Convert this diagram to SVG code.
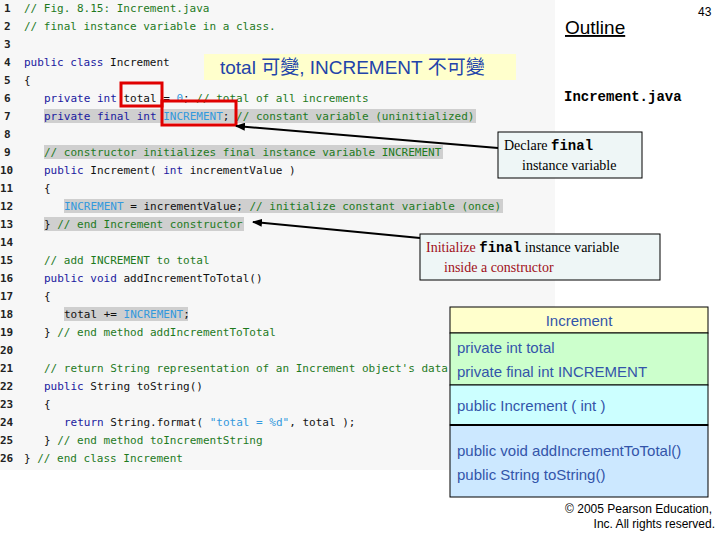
<svg xmlns="http://www.w3.org/2000/svg" width="720" height="540" viewBox="0 0 720 540">
<defs>
<marker id="ah" markerWidth="10" markerHeight="8" refX="9" refY="4" orient="auto" markerUnits="userSpaceOnUse"><path d="M0,0 L10,4 L0,8 z" fill="#000"/></marker>
</defs>
<style>
.code{font-family:"DejaVu Sans Mono","Liberation Mono",monospace;font-size:11px;fill:#111}
.ln{font-family:"DejaVu Sans Mono",monospace;font-size:11px;fill:#222;font-weight:bold}
.k{fill:#1a1aa0}.c{fill:#1e7a1e}.b{fill:#3399dd}
.hl{fill:#cfcfcf}
.call{font-family:"Liberation Serif",serif;font-size:14px}
.uml{font-family:"Liberation Sans",Arial,sans-serif;font-size:15px;fill:#3355aa}
</style>
<rect width="720" height="540" fill="#fff"/>
<rect x="0" y="0" width="555" height="470" fill="#f7f7f7"/>
<g id="highlights">
<rect class="hl" x="44" y="109" width="432" height="14"/>
<rect class="hl" x="44" y="145" width="399" height="14"/>
<rect class="hl" x="64" y="199" width="439" height="14"/>
<rect class="hl" x="44" y="217" width="200" height="14"/>
<rect class="hl" x="64" y="307" width="124" height="14"/>
</g>
<g id="code">
<g class="ln">
<text x="4" y="12">1</text><text x="4" y="30">2</text><text x="4" y="48">3</text><text x="4" y="66">4</text><text x="4" y="84">5</text><text x="4" y="102">6</text><text x="4" y="120">7</text><text x="4" y="138">8</text><text x="4" y="156">9</text><text x="0" y="174">10</text><text x="0" y="192">11</text><text x="0" y="210">12</text><text x="0" y="228">13</text><text x="0" y="246">14</text><text x="0" y="264">15</text><text x="0" y="282">16</text><text x="0" y="300">17</text><text x="0" y="318">18</text><text x="0" y="336">19</text><text x="0" y="354">20</text><text x="0" y="372">21</text><text x="0" y="390">22</text><text x="0" y="408">23</text><text x="0" y="426">24</text><text x="0" y="444">25</text><text x="0" y="462">26</text>
</g>
<text class="code" x="24" y="12" xml:space="preserve"><tspan class="c">// Fig. 8.15: Increment.java</tspan></text>
<text class="code" x="24" y="30" xml:space="preserve"><tspan class="c">// final instance variable in a class.</tspan></text>
<text class="code" x="24" y="66" xml:space="preserve"><tspan class="k">public class</tspan> Increment</text>
<text class="code" x="24" y="84">{</text>
<text class="code" x="44" y="102" xml:space="preserve"><tspan class="k">private int</tspan> total = <tspan class="b">0</tspan>; <tspan class="c">// total of all increments</tspan></text>
<text class="code" x="44" y="120" xml:space="preserve"><tspan class="k">private final int</tspan> <tspan class="b">INCREMENT</tspan>; <tspan class="c">// constant variable (uninitialized)</tspan></text>
<text class="code" x="44" y="156" xml:space="preserve"><tspan class="c">// constructor initializes final instance variable INCREMENT</tspan></text>
<text class="code" x="44" y="174" xml:space="preserve"><tspan class="k">public</tspan> Increment( <tspan class="k">int</tspan> incrementValue )</text>
<text class="code" x="44" y="192">{</text>
<text class="code" x="64" y="210" xml:space="preserve"><tspan class="b">INCREMENT</tspan> = incrementValue; <tspan class="c">// initialize constant variable (once)</tspan></text>
<text class="code" x="44" y="228" xml:space="preserve">} <tspan class="c">// end Increment constructor</tspan></text>
<text class="code" x="44" y="264" xml:space="preserve"><tspan class="c">// add INCREMENT to total</tspan></text>
<text class="code" x="44" y="282" xml:space="preserve"><tspan class="k">public void</tspan> addIncrementToTotal()</text>
<text class="code" x="44" y="300">{</text>
<text class="code" x="64" y="318" xml:space="preserve">total += <tspan class="b">INCREMENT</tspan>;</text>
<text class="code" x="44" y="336" xml:space="preserve">} <tspan class="c">// end method addIncrementToTotal</tspan></text>
<text class="code" x="44" y="372" xml:space="preserve"><tspan class="c">// return String representation of an Increment object's data</tspan></text>
<text class="code" x="44" y="390" xml:space="preserve"><tspan class="k">public</tspan> String toString()</text>
<text class="code" x="44" y="408">{</text>
<text class="code" x="64" y="426" xml:space="preserve"><tspan class="k">return</tspan> String.format( <tspan class="b">"total = %d"</tspan>, total );</text>
<text class="code" x="44" y="444" xml:space="preserve">} <tspan class="c">// end method toIncrementString</tspan></text>
<text class="code" x="24" y="462" xml:space="preserve">} <tspan class="c">// end class Increment</tspan></text>
</g>
<g id="redboxes" fill="none" stroke="#e00000" stroke-width="3">
<rect x="121" y="83" width="41" height="23"/>
<rect x="162" y="101" width="74" height="24"/>
</g>
<g id="title">
<text x="565" y="34" font-family="Liberation Sans,Arial,sans-serif" font-size="19" text-decoration="underline" fill="#000">Outline</text>
<text x="698" y="16" font-family="Liberation Sans,Arial,sans-serif" font-size="12" fill="#000">43</text>
<text x="564" y="101" font-family="Liberation Mono,monospace" font-size="14" font-weight="bold" fill="#000">Increment.java</text>
</g>
<g id="note">
<rect x="204" y="54" width="312" height="26" fill="#ffffcc"/>
<text x="220" y="74" font-family="Liberation Sans,'Noto Sans CJK TC',sans-serif" font-size="19" fill="#2244aa">total 可變, INCREMENT 不可變</text>
</g>
<g id="connectors" stroke="#000" stroke-width="2" fill="none">
<line x1="498" y1="148" x2="236" y2="126" marker-end="url(#ah)"/>
<line x1="420" y1="238" x2="253" y2="222" marker-end="url(#ah)"/>
</g>
<g id="callout1">
<rect x="498" y="132" width="144" height="46" fill="#eef6f6" stroke="#000"/>
<text class="call" x="504" y="150">Declare <tspan font-family="Liberation Mono,monospace" font-weight="bold">final</tspan></text>
<text class="call" x="522" y="170">instance variable</text>
</g>
<g id="callout2">
<rect x="420" y="234" width="240" height="46" fill="#eef6f6" stroke="#000"/>
<text class="call" x="426" y="252" fill="#a01020">Initialize <tspan font-family="Liberation Mono,monospace" font-weight="bold" fill="#000">final</tspan><tspan fill="#000"> instance variable</tspan></text>
<text class="call" x="444" y="272" fill="#a01020">inside a constructor</text>
</g>
<g id="uml" stroke="#000">
<rect x="450" y="307" width="258" height="26" fill="#ffffcc"/>
<rect x="450" y="333" width="258" height="52" fill="#ccffcc"/>
<rect x="450" y="385" width="258" height="40" fill="#ccffff"/>
<rect x="450" y="425" width="258" height="72" fill="#cce8ff"/>
<line x1="450" y1="425" x2="708" y2="425" stroke-width="2"/>
<g stroke="none">
<text class="uml" x="579" y="326" text-anchor="middle">Increment</text>
<text class="uml" x="457" y="353">private int total</text>
<text class="uml" x="457" y="377">private final int INCREMENT</text>
<text class="uml" x="457" y="411" fill="#a01020">public Increment ( int )</text>
<text class="uml" x="457" y="456">public void addIncrementToTotal()</text>
<text class="uml" x="457" y="480">public String toString()</text>
</g>
</g>
<g id="copyright" font-family="Liberation Sans,Arial,sans-serif" font-size="12" fill="#000" text-anchor="end">
<text x="712" y="513">© 2005 Pearson Education,</text>
<text x="715" y="528">Inc.  All rights reserved.</text>
</g>
</svg>
